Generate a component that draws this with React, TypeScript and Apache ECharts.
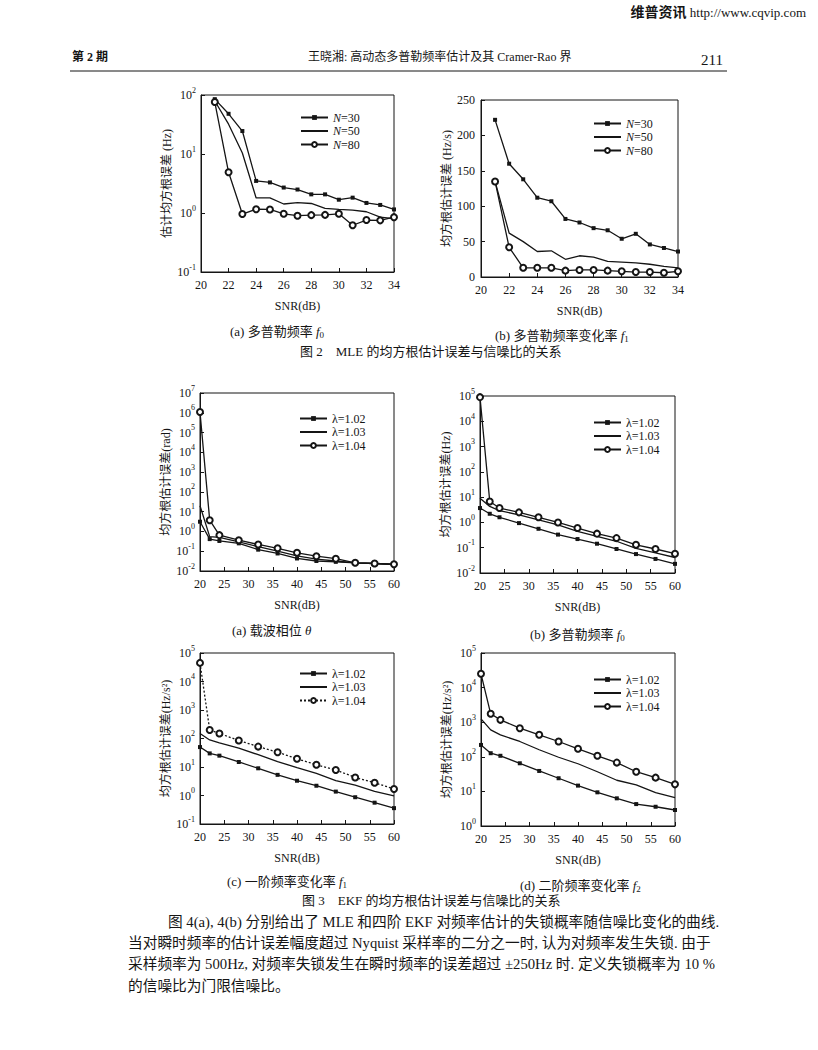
import React, { useEffect, useRef } from "react";
import * as echarts from "echarts";

const FONT = '"Liberation Serif", "Times New Roman", "Noto Sans CJK SC", serif';
const INK = "#151515";

// ---------- Fig. 2 : MLE ----------
const snrMLE = [21, 22, 23, 24, 25, 26, 27, 28, 29, 30, 31, 32, 33, 34];
const mleXTicks = [20, 22, 24, 26, 28, 30, 32, 34];
const mleF0Exp = [-1, 0, 1, 2];
const mleF0_N30 = [85, 48, 24.5, 3.5, 3.3, 2.7, 2.5, 2.07, 2.07, 1.68, 1.82, 1.48, 1.37, 1.15];
const mleF0_N50 = [79, 32, 10.4, 1.8, 1.8, 1.42, 1.5, 1.45, 1.2, 1.15, 1.12, 1.05, 0.85, 0.8];
const mleF0_N80 = [76, 4.9, 0.96, 1.16, 1.15, 0.97, 0.9, 0.92, 0.93, 0.97, 0.62, 0.76, 0.75, 0.85];
const mleF1Ticks = [0, 50, 100, 150, 200, 250];
const mleF1_N30 = [222, 160, 138, 112, 107, 82, 77, 69, 66, 54, 61, 46, 41, 36];
const mleF1_N50 = [135, 62, 50, 36, 37, 25, 30, 28, 22, 21, 20, 18, 15, 13];
const mleF1_N80 = [135, 42, 13, 13, 13, 9, 10, 10, 9, 8, 7, 7, 6, 8];
const mleNames = ["N=30", "N=50", "N=80"];

// ---------- Fig. 3 : EKF ----------
const snrEKF = [20, 22, 24, 28, 32, 36, 40, 44, 48, 52, 56, 60];
const ekfXTicks = [20, 25, 30, 35, 40, 45, 50, 55, 60];
const ekfNames = ["λ=1.02", "λ=1.03", "λ=1.04"];

const thetaExp = [-2, -1, 0, 1, 2, 3, 4, 5, 6, 7];
const theta_L102 = [3.1, 0.41, 0.33, 0.25, 0.12, 0.077, 0.043, 0.032, 0.029, 0.026, 0.024, 0.022];
const theta_L103 = [20, 0.55, 0.5, 0.3, 0.17, 0.1, 0.058, 0.04, 0.032, 0.026, 0.024, 0.021];
const theta_L104 = [1.1e6, 3.7, 0.65, 0.36, 0.22, 0.14, 0.083, 0.056, 0.042, 0.026, 0.024, 0.022];

const f0Exp = [-2, -1, 0, 1, 2, 3, 4, 5];
const f0_L102 = [3.7, 2.2, 1.6, 0.94, 0.56, 0.33, 0.22, 0.144, 0.089, 0.056, 0.036, 0.023];
const f0_L103 = [9.1, 4.3, 2.9, 2.0, 1.27, 0.8, 0.44, 0.28, 0.18, 0.094, 0.062, 0.041];
const f0_L104 = [9e4, 6.7, 3.7, 2.5, 1.6, 1.0, 0.6, 0.36, 0.24, 0.13, 0.089, 0.058];

const f1Exp = [-1, 0, 1, 2, 3, 4, 5];
const f1_L102 = [50, 30, 25, 15, 9, 5.3, 3.3, 2.2, 1.37, 0.87, 0.56, 0.36];
const f1_L103 = [150, 89, 70, 46, 27, 15.5, 9.5, 6, 3.3, 2.3, 1.4, 0.97];
const f1_L104 = [4.5e4, 200, 150, 85, 52, 33, 19.5, 12, 7.9, 4.3, 2.8, 1.7];

const f2Exp = [0, 1, 2, 3, 4, 5];
const f2_L102 = [220, 127, 107, 65, 39, 24, 14.7, 9.4, 6.3, 4.3, 3.6, 2.9];
const f2_L103 = [1250, 600, 430, 277, 160, 97, 63, 37, 21, 15.4, 9.2, 6.6];
const f2_L104 = [2.5e4, 1750, 1170, 670, 433, 277, 170, 107, 68, 37, 25, 16];

const pair = (xs: number[], ys: number[]) => xs.map((x, i) => [x, ys[i]]);

const supRich = {
  b: { fontSize: 12, fontFamily: FONT, color: INK, lineHeight: 18, verticalAlign: "middle" },
  s: { fontSize: 8, fontFamily: FONT, color: INK, lineHeight: 9, verticalAlign: "top" },
};

const grids = [
  { left: 201, top: 95, width: 193, height: 177 },
  { left: 481, top: 100, width: 197, height: 177 },
  { left: 200, top: 393, width: 194, height: 178 },
  { left: 480, top: 396, width: 195, height: 177 },
  { left: 200, top: 653, width: 194, height: 171 },
  { left: 481, top: 653, width: 194, height: 173 },
];

const yNames = [
  "估计均方根误差 (Hz)",
  "均方根估计误差 (Hz/s)",
  "均方根估计误差(rad)",
  "均方根估计误差(Hz)",
  "均方根估计误差(Hz/s²)",
  "均方根估计误差(Hz/s²)",
];

function App() {
  const ref = useRef<HTMLDivElement>(null);
  useEffect(() => {
    if (!ref.current) return;
    const chart = echarts.init(ref.current, null, { renderer: "svg" });

    const xAxis = grids.map((_, i) => {
      const t = i < 2 ? mleXTicks : ekfXTicks;
      return {
        gridIndex: i,
        type: "value",
        min: t[0],
        max: t[t.length - 1],
        interval: t[1] - t[0],
        name: "SNR(dB)",
        nameLocation: "middle",
        nameGap: 28,
        nameTextStyle: { fontSize: 12, fontFamily: FONT, color: INK },
        axisLine: { lineStyle: { color: INK, width: 1 } },
        axisTick: { inside: true, length: 4, lineStyle: { color: INK } },
        axisLabel: { fontSize: 12, fontFamily: FONT, color: INK, margin: 7 },
        splitLine: { show: false },
      };
    });

    const logExps = [mleF0Exp, null, thetaExp, f0Exp, f1Exp, f2Exp];
    const yAxis = grids.map((_, i) => {
      const common = {
        gridIndex: i,
        name: yNames[i],
        nameLocation: "middle",
        nameRotate: 90,
        nameGap: 28,
        nameTextStyle: { fontSize: 12, fontFamily: FONT, color: INK },
        axisLine: { show: true, lineStyle: { color: INK, width: 1 } },
        axisTick: { show: true, inside: true, length: 4, lineStyle: { color: INK } },
        splitLine: { show: false },
      };
      const e = logExps[i];
      if (e) {
        return {
          ...common,
          type: "log",
          logBase: 10,
          min: Math.pow(10, e[0]),
          max: Math.pow(10, e[e.length - 1]),
          splitNumber: 12,
          axisLabel: {
            margin: 5,
            formatter: (v: number) => `{b|10}{s|${Math.round(Math.log10(v))}}`,
            rich: supRich,
          },
        };
      }
      return {
        ...common,
        type: "value",
        min: mleF1Ticks[0],
        max: mleF1Ticks[mleF1Ticks.length - 1],
        interval: mleF1Ticks[1] - mleF1Ticks[0],
        axisLabel: { fontSize: 12, fontFamily: FONT, color: INK, margin: 6 },
      };
    });

    const lineBase = (name: string, gi: number, xs: number[], ys: number[], kind: string, dotted = false) => {
      const s: any = {
        type: "line",
        name,
        xAxisIndex: gi,
        yAxisIndex: gi,
        data: pair(xs, ys),
        lineStyle: { color: INK, width: 1.3, type: dotted ? [2, 2] : "solid" },
        itemStyle: { color: INK, borderWidth: 1 },
        emphasis: { disabled: true },
        z: 3,
      };
      if (kind === "filled") {
        s.symbol = "rect";
        s.symbolSize = 4;
      } else if (kind === "open") {
        s.symbol = "emptyCircle";
        s.symbolSize = 6;
      } else {
        s.symbol = "none";
      }
      return s;
    };

    const kinds = ["filled", "none", "open"];
    const series: any[] = [];
    const mleSets = [
      [mleF0_N30, mleF0_N50, mleF0_N80],
      [mleF1_N30, mleF1_N50, mleF1_N80],
    ];
    mleSets.forEach((set, gi) =>
      set.forEach((ys, k) => series.push(lineBase(`${gi}:${mleNames[k]}`, gi, snrMLE, ys, kinds[k])))
    );
    const ekfSets = [
      [theta_L102, theta_L103, theta_L104],
      [f0_L102, f0_L103, f0_L104],
      [f1_L102, f1_L103, f1_L104],
      [f2_L102, f2_L103, f2_L104],
    ];
    ekfSets.forEach((set, j) => {
      const gi = j + 2;
      set.forEach((ys, k) =>
        series.push(lineBase(`${gi}:${ekfNames[k]}`, gi, snrEKF, ys, kinds[k], gi === 4 && k === 2))
      );
    });

    const legendPos = [
      [300, 111],
      [593, 117],
      [299, 412],
      [593, 416],
      [299, 667],
      [593, 673],
    ];
    const legend = legendPos.map((p, gi) => {
      const names = gi < 2 ? mleNames : ekfNames;
      return {
        orient: "vertical",
        left: p[0],
        top: p[1],
        padding: 0,
        itemWidth: 27,
        itemHeight: 6,
        itemGap: 0.5,
        selectedMode: false,
        data: names.map((n, k) =>
          k === 1 ? { name: `${gi}:${n}`, itemStyle: { opacity: 0 } } : { name: `${gi}:${n}` }
        ),
        formatter: (n: string) => {
          const t = n.split(":")[1];
          return t.startsWith("N") ? `{i|N}{r|${t.slice(1)}}` : `{r|${t}}`;
        },
        textStyle: {
          fontSize: 12,
          fontFamily: FONT,
          color: INK,
          lineHeight: 13,
          rich: {
            i: { fontSize: 12, fontFamily: FONT, fontStyle: "italic", color: INK, lineHeight: 13 },
            r: { fontSize: 12, fontFamily: FONT, color: INK, lineHeight: 13 },
          },
        },
      };
    });

    const capRich = {
      n: { fontSize: 13, fontFamily: FONT, color: INK, lineHeight: 16, verticalAlign: "middle" },
      i: { fontSize: 13, fontFamily: FONT, fontStyle: "italic", color: INK, lineHeight: 16, verticalAlign: "middle" },
      sub: { fontSize: 9, fontFamily: FONT, color: INK, lineHeight: 9, verticalAlign: "bottom" },
    };
    const cap = (x: number, y: number, text: string) => ({
      type: "text",
      x,
      y,
      style: { text, rich: capRich, textVerticalAlign: "middle", fill: INK, font: `13px ${FONT}` },
    });
    const plain = (x: number, y: number, text: string, font: string, align = "left") => ({
      type: "text",
      x,
      y,
      style: { text, font, fill: INK, textAlign: align, textVerticalAlign: "middle" },
    });

    const bodyFont = `14.7px ${FONT}`;
    const graphic = [
      {
        type: "text",
        x: 806,
        y: 12,
        style: {
          text: "{h|维普资讯}{u| http://www.cqvip.com}",
          textAlign: "right",
          textVerticalAlign: "middle",
          fill: INK,
          font: `13px ${FONT}`,
          rich: {
            h: { fontSize: 14, fontWeight: "bold", fontFamily: FONT, color: INK },
            u: { fontSize: 13, fontFamily: FONT, color: INK },
          },
        },
      },
      plain(72, 57, "第 2 期", `bold 12px ${FONT}`),
      plain(308, 57, "王晓湘: 高动态多普勒频率估计及其 Cramer-Rao 界", `12px ${FONT}`),
      plain(723, 60, "211", `15px ${FONT}`, "right"),
      {
        type: "line",
        shape: { x1: 70, y1: 71, x2: 727, y2: 71 },
        style: { stroke: INK, lineWidth: 1 },
      },
      cap(230, 331, "{n|(a) 多普勒频率 }{i|f}{sub|0}"),
      cap(495, 335, "{n|(b) 多普勒频率变化率 }{i|f}{sub|1}"),
      plain(300, 351, "图 2    MLE 的均方根估计误差与信噪比的关系", `13px ${FONT}`),
      cap(232, 630, "{n|(a) 载波相位 }{i|θ}"),
      cap(530, 634, "{n|(b) 多普勒频率 }{i|f}{sub|0}"),
      cap(227, 881, "{n|(c) 一阶频率变化率 }{i|f}{sub|1}"),
      cap(520, 885, "{n|(d) 二阶频率变化率 }{i|f}{sub|2}"),
      plain(302, 900, "图 3    EKF 的均方根估计误差与信噪比的关系", `13px ${FONT}`),
      plain(168, 922, "图 4(a), 4(b) 分别给出了 MLE 和四阶 EKF 对频率估计的失锁概率随信噪比变化的曲线.", bodyFont),
      plain(128, 943, "当对瞬时频率的估计误差幅度超过 Nyquist 采样率的二分之一时, 认为对频率发生失锁. 由于", bodyFont),
      plain(128, 964, "采样频率为 500Hz, 对频率失锁发生在瞬时频率的误差超过 ±250Hz 时. 定义失锁概率为 10 %", bodyFont),
      plain(128, 986, "的信噪比为门限信噪比。", bodyFont),
    ];

    chart.setOption({
      animation: false,
      backgroundColor: "#ffffff",
      grid: grids.map((g) => ({ ...g, show: true, borderColor: INK, borderWidth: 1, backgroundColor: "transparent" })),
      xAxis,
      yAxis,
      legend,
      series,
      graphic,
    });
    return () => chart.dispose();
  }, []);
  return <div ref={ref} style={{ position: "absolute", left: 0, top: 0, width: 818, height: 1050 }} />;
}

export default App;
